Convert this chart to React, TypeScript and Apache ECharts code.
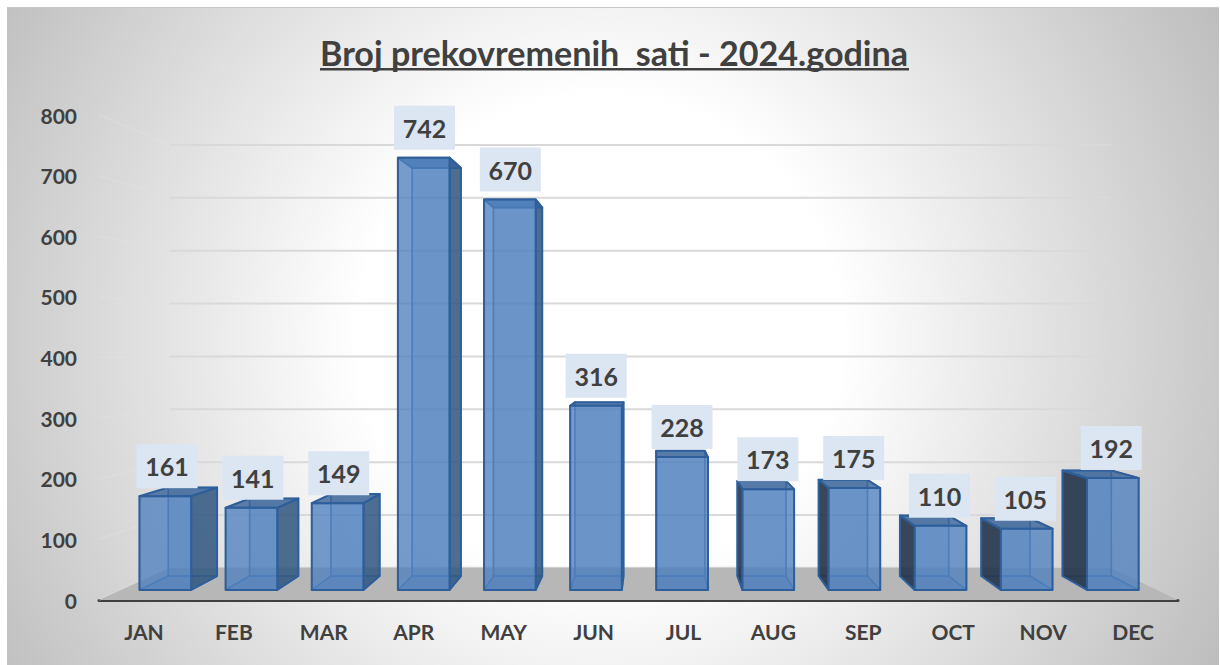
import React, { useEffect, useRef } from "react";
import * as echarts from "echarts";

const months = ["JAN", "FEB", "MAR", "APR", "MAY", "JUN", "JUL", "AUG", "SEP", "OCT", "NOV", "DEC"];
const hours = [161, 141, 149, 742, 670, 316, 228, 173, 175, 110, 105, 192];
const ticks = [0, 100, 200, 300, 400, 500, 600, 700, 800];
const titleText = "Broj prekovremenih  sati - 2024.godina";

const VP = [652, 342];
const WALL_VP = [652, 349];
const K_FRONT = 0.961;
const K_BACK = 0.907;
const K_WALL = 0.872;
const X_SQUEEZE = 0.9968;
const FONT = "Lato";
const TXT = "#404040";

const proj = (p: number[], k: number) => [VP[0] + k * X_SQUEEZE * (p[0] - VP[0]), VP[1] + k * (p[1] - VP[1])];
const projWall = (p: number[]) => [WALL_VP[0] + K_WALL * (p[0] - WALL_VP[0]), WALL_VP[1] + K_WALL * (p[1] - WALL_VP[1])];

const renderGrid = (params: any, api: any) => {
  const cs = params.coordSys;
  const y = api.coord([0, api.value(0)])[1];
  const a = [cs.x, y];
  const b = projWall(a);
  const c = projWall([cs.x + cs.width, y]);
  return {
    type: "group",
    children: [
      { type: "line", shape: { x1: a[0], y1: a[1], x2: b[0], y2: b[1] }, style: { stroke: "rgba(226,226,226,0.35)", lineWidth: 2 } },
      { type: "line", shape: { x1: b[0], y1: b[1], x2: c[0], y2: c[1] }, style: { stroke: "#d9d9d9", lineWidth: 2 } },
    ],
  };
};

const renderFloor = (params: any) => {
  const cs = params.coordSys;
  const bottom = cs.y + cs.height;
  const l = [cs.x, bottom];
  const r = [cs.x + cs.width, bottom];
  return {
    type: "polygon",
    shape: { points: [l, r, projWall(r), projWall(l)] },
    style: { fill: "#b7b7b7" },
  };
};

const renderBar = (_params: any, api: any) => {
  const i = api.value(0);
  const v = api.value(1);
  const half = (api.size([1, 0])[0] * 0.6) / 2;
  const base = api.coord([i, 0]);
  const top = api.coord([i, v]);
  const corner = (x: number, y: number, k: number) => proj([x, y], k);
  const fbl = corner(base[0] - half, base[1], K_FRONT);
  const fbr = corner(base[0] + half, base[1], K_FRONT);
  const ftl = corner(base[0] - half, top[1], K_FRONT);
  const ftr = corner(base[0] + half, top[1], K_FRONT);
  const bbl = corner(base[0] - half, base[1], K_BACK);
  const bbr = corner(base[0] + half, base[1], K_BACK);
  const btl = corner(base[0] - half, top[1], K_BACK);
  const btr = corner(base[0] + half, top[1], K_BACK);
  const edge = "#2f5f9a";
  const inner = "rgba(60,110,175,0.7)";
  const poly = (points: number[][], fill: string, stroke: string, lineWidth = 2) => ({
    type: "polygon",
    shape: { points },
    style: { fill, stroke, lineWidth, lineJoin: "round" },
  });
  const leftVisible = bbl[0] < fbl[0] - 0.5;
  const rightVisible = bbr[0] > fbr[0] + 0.5;
  const children: any[] = [
    poly([bbl, bbr, btr, btl], "rgba(79,129,189,0.25)", inner, 1.5),
    poly([fbl, fbr, bbr, bbl], "rgba(60,110,175,0.3)", inner, 1.5),
  ];
  if (!leftVisible) children.push(poly([fbl, bbl, btl, ftl], "rgba(0,0,0,0)", inner, 1.5));
  if (!rightVisible) children.push(poly([fbr, bbr, btr, ftr], "rgba(0,0,0,0)", inner, 1.5));
  if (leftVisible) children.push(poly([fbl, bbl, btl, ftl], "rgba(35,50,72,0.88)", edge));
  if (rightVisible) children.push(poly([fbr, bbr, btr, ftr], "rgba(48,85,125,0.82)", edge));
  children.push(poly([ftl, ftr, btr, btl], "rgba(55,98,150,0.8)", edge));
  children.push(poly([fbl, fbr, ftr, ftl], "rgba(78,128,190,0.78)", edge));
  return { type: "group", children };
};

const renderLabel = (_params: any, api: any) => {
  const i = api.value(0);
  const v = api.value(1);
  const top = api.coord([i, v]);
  const p = proj(top, K_FRONT);
  const cx = p[0] + (VP[0] - p[0]) * 0.0035;
  const cy = p[1] - 30;
  return {
    type: "group",
    children: [
      { type: "rect", shape: { x: cx - 30.5, y: cy - 22, width: 61, height: 44 }, style: { fill: "#dce6f2" } },
      {
        type: "text",
        style: {
          x: cx,
          y: cy,
          text: String(v),
          fill: TXT,
          font: `bold 25px ${FONT}`,
          align: "center",
          verticalAlign: "middle",
        },
      },
    ],
  };
};

export default function App() {
  const ref = useRef<HTMLDivElement>(null);
  useEffect(() => {
    const chart = echarts.init(ref.current!, undefined, { renderer: "svg" });
    const barData = hours.map((v, i) => [i, v]);
    chart.setOption({
      animation: false,
      title: {
        text: titleText,
        left: 609,
        top: 30,
        textAlign: "center",
        textStyle: { fontFamily: FONT, fontWeight: "bold", fontSize: 34.1, color: TXT },
      },
      graphic: [
        {
          type: "rect",
          z: -100,
          silent: true,
          shape: { x: 7, y: 8, width: 1212, height: 657 },
          style: {
            fill: new echarts.graphic.RadialGradient(
              600,
              336,
              710,
              [
                { offset: 0, color: "#ffffff" },
                { offset: 0.34, color: "#ffffff" },
                { offset: 1, color: "#bcbcbc" },
              ],
              true,
            ),
          },
        },
        { type: "rect", z: -99, silent: true, shape: { x: 7, y: 7, width: 1212, height: 1 }, style: { fill: "#c8c8c8" } },
        { type: "rect", z: 10, silent: true, shape: { x: 320, y: 68, width: 589, height: 2.5 }, style: { fill: TXT } },
      ],
      grid: { left: 99, right: 42, top: 115, height: 485 },
      xAxis: {
        type: "category",
        data: months,
        axisTick: { show: false },
        axisLine: { lineStyle: { color: TXT, width: 3, cap: "round" } },
        axisLabel: { color: TXT, fontFamily: FONT, fontWeight: "bold", fontSize: 21, margin: 21 },
      },
      yAxis: {
        type: "value",
        min: 0,
        max: 800,
        interval: 100,
        axisLine: { show: false },
        axisTick: { show: false },
        splitLine: { show: false },
        axisLabel: { color: TXT, fontFamily: FONT, fontWeight: "bold", fontSize: 21, margin: 22 },
      },
      series: [
        { type: "custom", z: 1, clip: false, silent: true, renderItem: renderGrid, data: ticks.map((t) => [t]), encode: { y: 0 } },
        { type: "custom", z: 2, clip: false, silent: true, renderItem: renderFloor, data: [[0]] },
        { type: "custom", z: 3, clip: false, silent: true, renderItem: renderBar, data: barData, encode: { x: 0, y: 1 } },
        { type: "custom", z: 4, clip: false, silent: true, renderItem: renderLabel, data: barData, encode: { x: 0, y: 1 } },
      ],
    });
    return () => chart.dispose();
  }, []);
  return <div ref={ref} style={{ position: "absolute", left: 0, top: 0, width: 1220, height: 665 }} />;
}
